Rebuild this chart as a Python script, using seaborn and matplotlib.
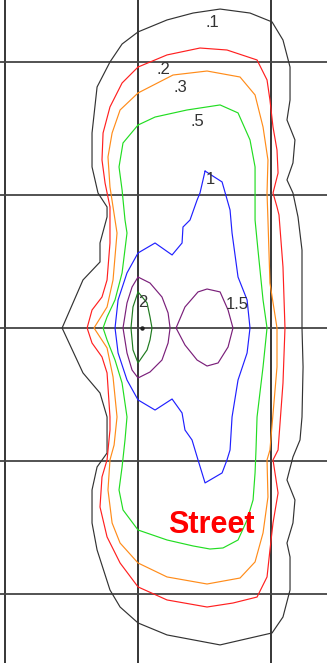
import numpy as np
import pandas as pd
import matplotlib
matplotlib.use("Agg")
import matplotlib.pyplot as plt
import seaborn as sns

sns.set_style("white")
plt.rcParams['font.family'] = ['Liberation Sans', 'DejaVu Sans']

# Isoline levels (footcandles) and their colours
levels = [".1", ".2", ".3", ".5", "1", "1.5", "1.5", "2"]

# Contour outlines (feet, luminaire at origin)
c01_x = [0, 2.18, 4.14, 6.17, 8.42, 10.08, 10.90, 11.43, 11.43, 11.20, 11.80, 11.65, 11.20, 11.65,
         12.03, 12.33, 12.33, 12.41, 12.33, 12.18, 11.65, 11.20, 11.80, 11.65, 11.20, 11.43, 11.43,
         10.90, 10.08, 6.17, 2.18, 0, -1.35, -2.11, -3.08, -3.46, -3.46, -3.08, -2.33, -2.33, -2.86,
         -4.14, -5.71, -4.14, -2.86, -2.86, -2.33, -2.33, -3.01, -3.46, -3.46, -3.08, -2.11, -1.20]
c01_y = [22.26, 23.16, 23.68, 23.98, 23.68, 23.01, 21.65, 19.62, 17.14, 15.64, 14.14, 12.41, 11.13, 10.15,
         8.35, 5.86, 0, -2.93, -6.69, -8.42, -9.70, -11.43, -12.93, -14.66, -16.17, -17.22, -19.70,
         -21.73, -22.93, -23.83, -23.08, -22.18, -20.98, -19.70, -16.69, -14.66, -12.18, -10.45, -9.40, -6.69, -4.89,
         -3.38, 0, 3.61, 4.96, 6.39, 8.35, 9.10, 10.15, 12.11, 14.66, 18.12, 20.00, 21.35]

c02_x = [0, 2.18, 4.66, 6.69, 8.95, 9.70, 9.92, 10.15, 10.45, 10.53, 10.15, 10.45, 10.60, 10.90, 11.05,
         10.90, 10.53, 10.15, 10.53, 10.15, 9.92, 9.70, 8.95, 7.14, 5.19, 2.18, 0, -1.35, -2.33, -2.86,
         -2.71, -2.33, -2.11, -2.11, -2.33, -2.71, -3.46, -3.83, -3.46, -2.71, -2.33, -2.11, -2.11, -2.48,
         -2.71, -2.63, -2.11, -1.20]
c02_y = [19.62, 20.53, 21.05, 20.90, 20.15, 18.65, 17.14, 15.11, 13.38, 11.65, 10.15, 9.10, 8.50, 4.59, 0,
         -4.14, -9.17, -9.92, -12.41, -14.66, -16.69, -18.72, -20.23, -20.68, -20.98, -20.45, -19.47, -17.67, -15.71, -13.46,
         -11.20, -9.92, -7.67, -6.69, -3.38, -2.18, -1.13, 0, 1.35, 2.33, 3.61, 6.39, 9.10, 10.90,
         12.63, 14.66, 16.62, 18.42]

c03_x = [0, 2.63, 5.19, 7.67, 8.80, 9.40, 9.77, 9.70, 9.77, 9.92, 10.45, 10.45, 9.92, 9.70, 9.77, 9.40,
         8.80, 7.67, 5.19, 2.18, 0, -1.35, -1.95, -2.26, -2.11, -1.80, -1.58, -1.88, -2.33, -3.31, -2.33,
         -1.88, -1.58, -1.73, -2.11, -2.26, -1.95, -1.35]
c03_y = [17.67, 19.02, 19.32, 18.87, 17.52, 15.11, 12.63, 10.15, 8.12, 3.38, 0, -2.93, -9.17, -9.92, -12.71, -15.41,
         -17.59, -18.80, -19.25, -18.72, -17.67, -16.17, -14.66, -12.18, -9.92, -8.80, -6.69, -3.68, -1.50, 0, 1.58,
         3.61, 7.14, 8.12, 10.60, 12.86, 14.66, 16.39]

c05_x = [0, 1.28, 3.68, 6.17, 7.52, 8.42, 8.80, 8.80, 8.80, 9.02, 9.40, 9.70, 9.40, 8.95, 8.87, 8.80, 8.65,
         8.20, 7.52, 6.39, 5.41, 4.14, 2.18, 0, -1.13, -1.43, -1.20, -0.98, -0.83, -1.20, -1.73, -2.33, -2.63,
         -2.33, -1.73, -1.20, -0.83, -0.98, -1.20, -1.43, -1.13]
c05_y = [15.26, 15.86, 16.39, 16.77, 16.17, 14.14, 12.11, 10.15, 8.12, 5.86, 2.11, 0, -2.93, -6.69, -9.17, -10.90, -12.93,
         -14.44, -15.94, -16.54, -16.62, -16.39, -15.94, -15.19, -13.68, -12.18, -10.45, -8.42, -6.69, -4.14, -2.41, -0.90, 0,
         0.83, 2.11, 4.14, 7.14, 8.12, 10.38, 12.11, 13.91]

c10_x = [5.04, 6.32, 6.92, 7.07, 7.52, 8.20, 8.42, 8.20, 7.52, 7.07, 6.92, 6.69, 6.32, 5.04, 4.51, 4.06, 3.53,
         3.31, 2.56, 1.28, 0, -0.83, -1.50, -1.73, -1.50, -0.83, 0, 1.28, 2.56, 3.31, 3.38, 3.91, 4.44, 4.66]
c10_y = [11.80, 10.98, 8.87, 7.14, 3.83, 2.11, 0, -1.88, -3.91, -6.69, -9.17, -9.92, -10.90, -11.65, -9.92, -8.42, -7.67,
         -6.39, -5.34, -6.17, -5.41, -3.91, -1.88, 0, 2.11, 4.14, 5.64, 6.39, 5.49, 6.39, 7.59, 8.12, 9.62, 10.15]

c15a_x = [0, 0.90, 1.80, 2.26, 2.41, 2.26, 1.80, 0.90, 0, -0.45, -0.83, -1.13, -0.83, -0.45]
c15a_y = [3.83, 3.38, 2.33, 1.13, 0, -1.13, -2.41, -3.31, -3.76, -3.16, -1.88, 0, 1.88, 3.08]

c15b_x = [2.86, 3.53, 4.51, 5.19, 6.17, 6.77, 7.14, 6.77, 6.02, 5.19, 4.44, 3.53]
c15b_y = [0, 1.58, 2.71, 2.93, 2.71, 1.35, 0, -1.43, -2.63, -2.86, -2.41, -1.28]

c20_x = [0, 0.68, 0.90, 1.05, 0.90, 0.68, 0, -0.38, -0.53, -0.38]
c20_y = [2.71, 1.88, 0.83, 0, -0.90, -1.65, -2.63, -1.65, 0, 1.58]

contours_x = [c01_x, c02_x, c03_x, c05_x, c10_x, c15a_x, c15b_x, c20_x]
contours_y = [c01_y, c02_y, c03_y, c05_y, c10_y, c15a_y, c15b_y, c20_y]
colors = ["#333333", "#ff2020", "#ff8c1a", "#22dd22", "#2020ff", "#7a1f7a", "#7a1f7a", "#1f7a1f"]

# Labels on the isolines
label_text = [".1", ".2", ".3", ".5", "1", "2", "1.5"]
label_x = [5.56, 1.88, 3.16, 4.44, 5.41, 0.38, 7.44]
label_y = [23.0, 19.40, 18.05, 15.49, 11.13, 1.95, 1.73]

grid_x = [-10, 0, 10]
grid_y = [-20, -10, 0, 10, 20]

fig = plt.figure(figsize=(3.27, 6.63), dpi=100)
ax = fig.add_axes([0, 0, 1, 1])
ax.set_xlim(-10.38, 14.21)
ax.set_ylim(-25.19, 24.66)
ax.axis("off")

for gx in grid_x:
    ax.axvline(gx, color="black", lw=1.1, zorder=1)
for gy in grid_y:
    ax.axhline(gy, color="#444444", lw=1.3, zorder=1)

for xs, ys, col, lev in zip(contours_x, contours_y, colors, levels):
    df = pd.DataFrame({"x": list(xs) + [xs[0]], "y": list(ys) + [ys[0]]})
    sns.lineplot(data=df, x="x", y="y", sort=False, estimator=None, color=col,
                 lw=0.85, ax=ax, zorder=3)

ax.plot([0.3], [0], marker="o", ms=2.2, color="#222222", zorder=4)

for t, lx, ly in zip(label_text, label_x, label_y):
    ax.text(lx, ly, t, fontsize=12, color="#333333", ha="center", va="center", zorder=5)

ax.text(5.49, -14.81, "Street", fontsize=22, fontweight="bold", color="#ff0000",
        ha="center", va="center", zorder=5)
ax.set_xlabel("")
ax.set_ylabel("")

fig.savefig("out.png", dpi=100)
